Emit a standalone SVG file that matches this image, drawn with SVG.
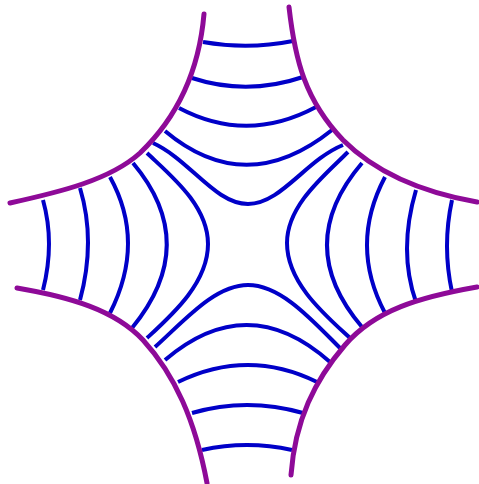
<svg xmlns="http://www.w3.org/2000/svg" width="479" height="484" viewBox="0 0 479 484">
<style>
.b{fill:none;stroke:#8e0a98;stroke-width:5;stroke-linecap:round;stroke-linejoin:round}
.f{fill:none;stroke:#0000c8;stroke-width:4;stroke-linecap:butt;stroke-linejoin:round}
</style>
<rect width="479" height="484" fill="#ffffff"/>
<g id="field-lines">
<path class="f" d="M203,42 Q248,50 293,41"/>
<path class="f" d="M192,78 Q247,96 303,77"/>
<path class="f" d="M179,108 Q247,144 316,107"/>
<path class="f" d="M165,131 Q246,199 332,130"/>
<path class="f" d="M153,143 C190,160 215,204 248,204 C281,204 306,160 343,145"/>
<path class="f" d="M202,450 Q247,440 292,450"/>
<path class="f" d="M192,413 Q247,397 303,413"/>
<path class="f" d="M178,382 Q248,348 317,382"/>
<path class="f" d="M165,360 Q248,289 330,362"/>
<path class="f" d="M155,347 C185,320 215,285 248,285 C281,285 312,320 340,348"/>
<path class="f" d="M43,200 Q55,243 43,290"/>
<path class="f" d="M80,188 Q96,241 80,300"/>
<path class="f" d="M110,177 Q146,242 110,313"/>
<path class="f" d="M133,163 Q201,244 132,328"/>
<path class="f" d="M147,153 C170,175 208,205 208,244 C208,283 172,315 147,338"/>
<path class="f" d="M452,200 Q442,246 452,292"/>
<path class="f" d="M416,190 Q398,251 416,302"/>
<path class="f" d="M385,177 Q349,245 385,313"/>
<path class="f" d="M362,163 Q292,245 362,327"/>
<path class="f" d="M348,152 C325,175 287,205 287,243 C287,283 325,315 350,338"/>
</g>
<g id="boundaries">
<path class="b" d="M204,14 C200,60 185,110 140,153 C110,180 60,192 10,203"/>
<path class="b" d="M289,7 C295,60 305,100 343,140 C375,172 420,192 477,202"/>
<path class="b" d="M17,288 C70,297 115,310 143,340 C175,375 195,420 207,483"/>
<path class="b" d="M477,287 C420,297 375,310 345,345 C315,380 295,420 291,475"/>
</g>
</svg>
